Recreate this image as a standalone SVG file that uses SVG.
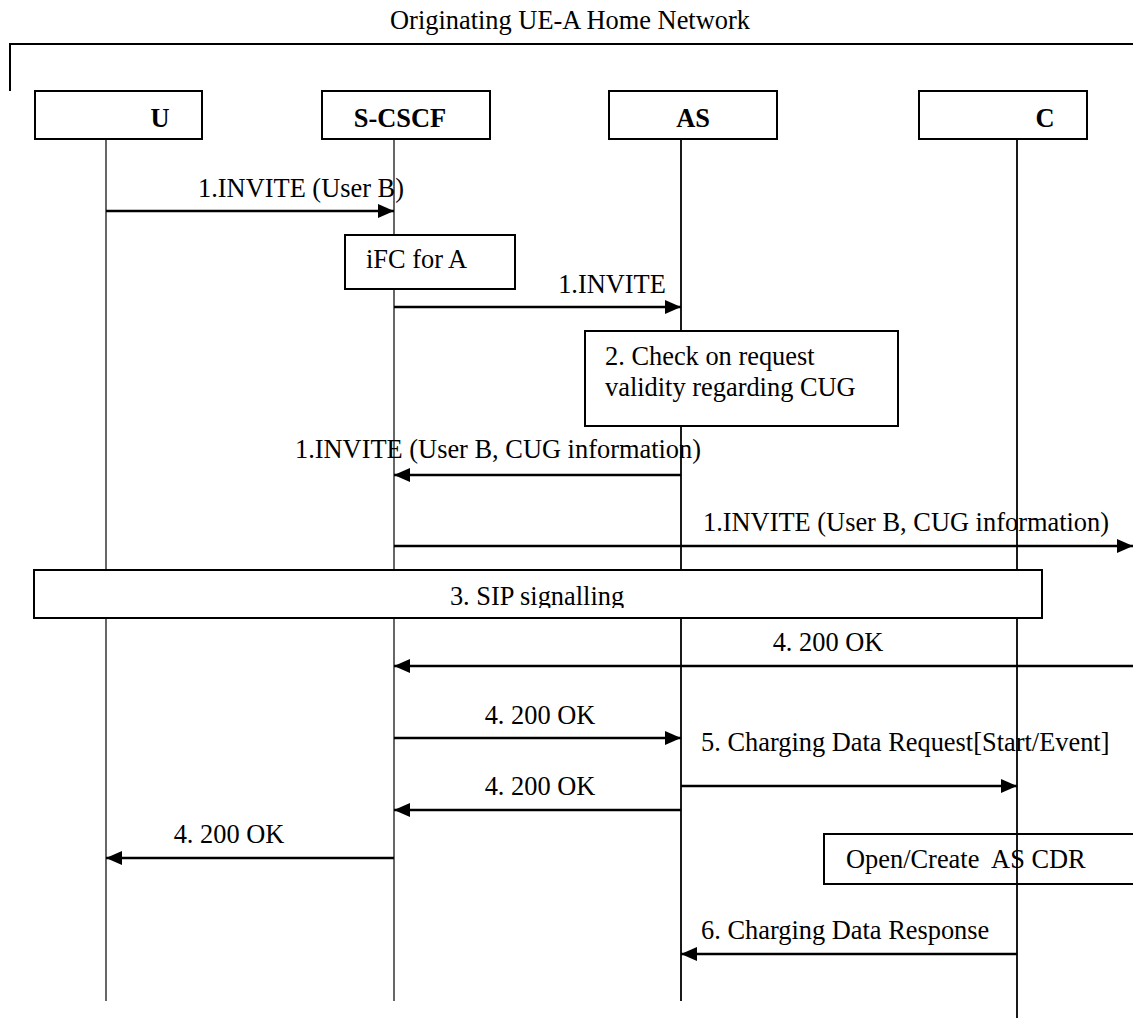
<svg xmlns="http://www.w3.org/2000/svg" width="1133" height="1018" viewBox="0 0 1133 1018">
<style>
text{font-family:"Liberation Serif","Times New Roman",serif;font-size:26.4px;fill:#000}
.b{font-weight:bold}
.m{text-anchor:middle}
.pre{white-space:pre}
.box{fill:#fff;stroke:#000;stroke-width:2}
.open{fill:none;stroke:#000;stroke-width:2}
.life{stroke:#000;stroke-width:1.2;fill:none}
.msg{stroke:#000;stroke-width:2.5;fill:none}
.frame{stroke:#000;stroke-width:2;fill:none}
</style>
<defs>
<marker id="ah" markerUnits="userSpaceOnUse" markerWidth="16" markerHeight="14" refX="16" refY="7" orient="auto">
<path d="M0,0 L16,7 L0,14 z" fill="#000"/>
</marker>
<clipPath id="sipclip"><rect x="34" y="570" width="1008" height="38"/></clipPath>
</defs>
<rect width="1133" height="1018" fill="#fff"/>

<g id="frame">
<text class="m" x="570" y="29">Originating UE-A Home Network</text>
<path class="frame" d="M10,91 V44 H1140"/>
</g>

<g id="connectors">
<line class="msg" x1="106" y1="211" x2="394" y2="211" marker-end="url(#ah)"/>
<text class="m" x="301" y="197">1.INVITE (User B)</text>
<line class="msg" x1="394" y1="307" x2="681" y2="307" marker-end="url(#ah)"/>
<text class="m" x="612" y="293">1.INVITE</text>
<line class="msg" x1="681" y1="475" x2="394" y2="475" marker-end="url(#ah)"/>
<text class="m" x="498" y="458">1.INVITE (User B, CUG information)</text>
<line class="msg" x1="394" y1="546" x2="1133" y2="546" marker-end="url(#ah)"/>
<text class="m" x="906" y="531">1.INVITE (User B, CUG information)</text>
<line class="msg" x1="1140" y1="666" x2="394" y2="666" marker-end="url(#ah)"/>
<text class="m" x="828" y="651">4. 200 OK</text>
<line class="msg" x1="394" y1="738" x2="681" y2="738" marker-end="url(#ah)"/>
<text class="m" x="540" y="724">4. 200 OK</text>
<text x="701" y="751">5. Charging Data Request[Start/Event]</text>
<line class="msg" x1="681" y1="786" x2="1017" y2="786" marker-end="url(#ah)"/>
<line class="msg" x1="681" y1="810" x2="394" y2="810" marker-end="url(#ah)"/>
<text class="m" x="540" y="795">4. 200 OK</text>
<line class="msg" x1="394" y1="858" x2="106" y2="858" marker-end="url(#ah)"/>
<text class="m" x="229" y="843">4. 200 OK</text>
<line class="msg" x1="1017" y1="954" x2="681" y2="954" marker-end="url(#ah)"/>
<text x="701" y="939">6. Charging Data Response</text>
</g>

<g id="note-open">
<rect class="open" x="824" y="834" width="320" height="50"/>
<text class="pre" x="846" y="868" xml:space="preserve">Open/Create  AS CDR</text>
</g>

<g id="node-U">
<line class="life" x1="106" y1="139" x2="106" y2="1001"/>
<rect class="box" x="35" y="91" width="167" height="48"/>
<text class="b m" x="160" y="127">U</text>
</g>
<g id="node-SCSCF">
<line class="life" x1="394" y1="139" x2="394" y2="1001" stroke="#555"/>
<rect class="box" x="322" y="91" width="168" height="48"/>
<text class="b m" x="400" y="127">S-CSCF</text>
</g>
<g id="node-AS">
<line class="life" x1="681" y1="139" x2="681" y2="1001" style="stroke-width:1.8"/>
<rect class="box" x="609" y="91" width="168" height="48"/>
<text class="b m" x="693" y="127">AS</text>
</g>
<g id="node-C">
<line class="life" x1="1017" y1="139" x2="1017" y2="1018" style="stroke-width:1.8"/>
<rect class="box" x="919" y="91" width="168" height="48"/>
<text class="b m" x="1045" y="127">C</text>
</g>

<g id="note-ifc">
<rect class="box" x="345" y="235" width="170" height="54"/>
<text x="366" y="268">iFC for A</text>
</g>
<g id="note-check">
<rect class="box" x="585" y="331" width="313" height="95"/>
<text x="605" y="365">2. Check on request</text>
<text x="605" y="396">validity regarding CUG</text>
</g>
<g id="note-sip">
<rect class="box" x="34" y="570" width="1008" height="48"/>
<text class="m" x="537" y="605" clip-path="url(#sipclip)">3. SIP signalling</text>
</g>
</svg>
